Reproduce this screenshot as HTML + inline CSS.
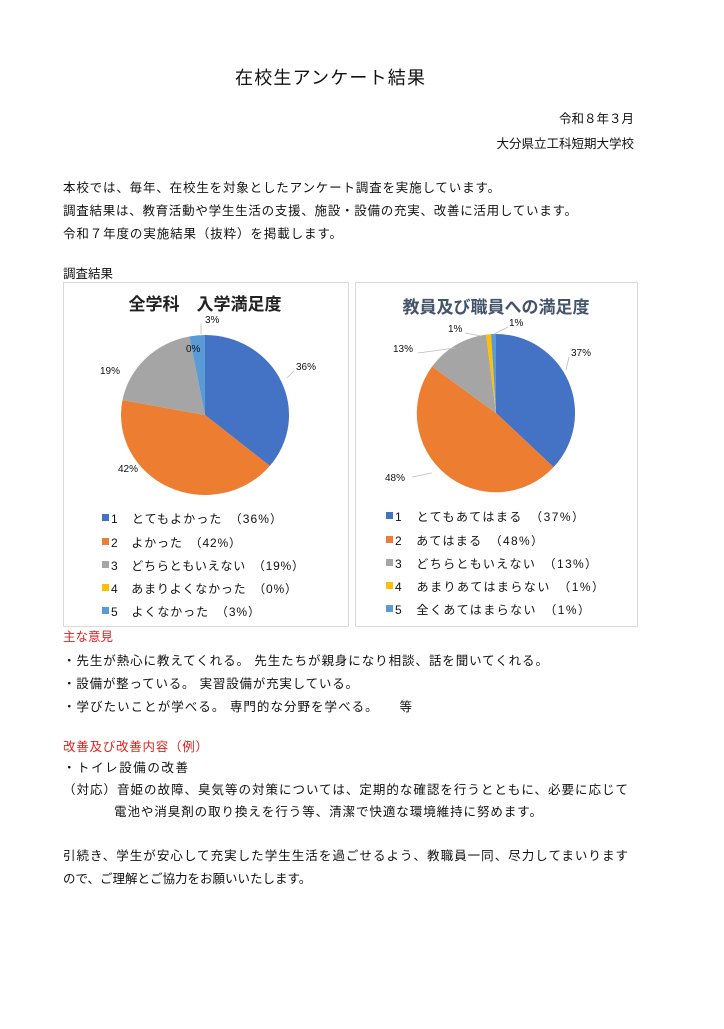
<!DOCTYPE html>
<html><head><meta charset="utf-8"><style>
body{margin:0;background:#fff}
svg text{font-family:"Liberation Sans","Noto Sans CJK JP",sans-serif;fill:#111}
</style></head><body>
<svg width="724" height="1024" viewBox="0 0 724 1024" xmlns="http://www.w3.org/2000/svg">
<rect width="724" height="1024" fill="#fff"/>
<text x="235" y="84" font-size="18" textLength="190" lengthAdjust="spacing">在校生アンケート結果</text>
<text x="634" y="123" font-size="12.5" text-anchor="end">令和８年３月</text>
<text x="634" y="148" font-size="12.5" text-anchor="end">大分県立工科短期大学校</text>
<g font-size="12.5">
<text x="63" y="192" textLength="437" lengthAdjust="spacing">本校では、毎年、在校生を対象としたアンケート調査を実施しています。</text>
<text x="63" y="215" textLength="514" lengthAdjust="spacing">調査結果は、教育活動や学生生活の支援、施設・設備の充実、改善に活用しています。</text>
<text x="63" y="238" textLength="279" lengthAdjust="spacing">令和７年度の実施結果（抜粋）を掲載します。</text>
<text x="63" y="278">調査結果</text>
</g>
<rect x="63.5" y="282.5" width="285" height="344" fill="#fff" stroke="#d9d9d9"/>
<rect x="355.5" y="282.5" width="282" height="344" fill="#fff" stroke="#d9d9d9"/>
<text x="205" y="310" font-size="17" font-weight="bold" text-anchor="middle" style="fill:#222">全学科　入学満足度</text>
<text x="496" y="313" font-size="17" font-weight="bold" text-anchor="middle" style="fill:#44546a">教員及び職員への満足度</text>
<g transform="translate(205,415) scale(84,80)">
<path d="M0 0L0 -1A1 1 0 0 1 0.772 0.636Z" fill="#4472c4"/>
<path d="M0 0L0.772 0.636A1 1 0 0 1 -0.982 -0.187Z" fill="#ed7d31"/>
<path d="M0 0L-0.982 -0.187A1 1 0 0 1 -0.187 -0.982Z" fill="#a5a5a5"/>
<path d="M0 0L-0.187 -0.982A1 1 0 0 1 0 -1Z" fill="#5b9bd5"/>
</g>
<g transform="translate(496,413) scale(79,79)">
<path d="M0 0L0 -1A1 1 0 0 1 0.729 0.685Z" fill="#4472c4"/>
<path d="M0 0L0.729 0.685A1 1 0 0 1 -0.809 -0.588Z" fill="#ed7d31"/>
<path d="M0 0L-0.809 -0.588A1 1 0 0 1 -0.125 -0.992Z" fill="#a5a5a5"/>
<path d="M0 0L-0.125 -0.992A1 1 0 0 1 -0.063 -0.998Z" fill="#ffc000"/>
<path d="M0 0L-0.063 -0.998A1 1 0 0 1 0 -1Z" fill="#5b9bd5"/>
</g>
<g font-size="10" style="fill:#444">
<text x="296" y="370">36%</text>
<text x="100" y="374">19%</text>
<text x="118" y="472">42%</text>
<text x="186" y="352">0%</text>
<text x="205" y="323">3%</text>
<text x="571" y="356">37%</text>
<text x="393" y="352">13%</text>
<text x="385" y="481">48%</text>
<text x="448" y="332">1%</text>
<text x="509" y="326">1%</text>
</g>
<g stroke="#bbb" fill="none" stroke-width="0.8">
<path d="M294 371L287 378"/><path d="M201 324L201 334"/>
<path d="M569 357L566 370"/><path d="M418 353L455 348"/><path d="M465 333L481 336"/><path d="M508 327L494 334"/><path d="M412 477L432 473"/>
</g>
<g font-size="12" style="fill:#444" lengthAdjust="spacing">
<rect x="102" y="514" width="7" height="7" fill="#4472c4"/><text x="111" y="523" textLength="171">1　とてもよかった　（36%）</text>
<rect x="102" y="538" width="7" height="7" fill="#ed7d31"/><text x="111" y="547" textLength="130">2　よかった　（42%）</text>
<rect x="102" y="561" width="7" height="7" fill="#a5a5a5"/><text x="111" y="570" textLength="193">3　どちらともいえない　（19%）</text>
<rect x="102" y="584" width="7" height="7" fill="#ffc000"/><text x="111" y="593" textLength="186">4　あまりよくなかった　（0%）</text>
<rect x="102" y="607" width="7" height="7" fill="#5b9bd5"/><text x="111" y="616" textLength="149">5　よくなかった　（3%）</text>
<rect x="386" y="512" width="7" height="7" fill="#4472c4"/><text x="395" y="521" textLength="189">1　とてもあてはまる　（37%）</text>
<rect x="386" y="536" width="7" height="7" fill="#ed7d31"/><text x="395" y="545" textLength="148">2　あてはまる　（48%）</text>
<rect x="386" y="559" width="7" height="7" fill="#a5a5a5"/><text x="395" y="568" textLength="202">3　どちらともいえない　（13%）</text>
<rect x="386" y="582" width="7" height="7" fill="#ffc000"/><text x="395" y="591" textLength="209">4　あまりあてはまらない　（1%）</text>
<rect x="386" y="605" width="7" height="7" fill="#5b9bd5"/><text x="395" y="614" textLength="195">5　全くあてはまらない　（1%）</text>
</g>
<g font-size="12.5">
<text x="63" y="641" style="fill:#e02020">主な意見</text>
<text x="63" y="665" textLength="485" lengthAdjust="spacing">・先生が熱心に教えてくれる。 先生たちが親身になり相談、話を聞いてくれる。</text>
<text x="63" y="688" textLength="295" lengthAdjust="spacing">・設備が整っている。 実習設備が充実している。</text>
<text x="63" y="711" textLength="349" lengthAdjust="spacing">・学びたいことが学べる。 専門的な分野を学べる。　　等</text>
<text x="63" y="751" style="fill:#e02020" textLength="145" lengthAdjust="spacing">改善及び改善内容（例）</text>
<text x="63" y="772" textLength="125" lengthAdjust="spacing">・トイレ設備の改善</text>
<text x="63" y="794" textLength="565" lengthAdjust="spacing">（対応）音姫の故障、臭気等の対策については、定期的な確認を行うとともに、必要に応じて</text>
<text x="114" y="816" textLength="428" lengthAdjust="spacing">電池や消臭剤の取り換えを行う等、清潔で快適な環境維持に努めます。</text>
<text x="63" y="860" textLength="565" lengthAdjust="spacing">引続き、学生が安心して充実した学生生活を過ごせるよう、教職員一同、尽力してまいります</text>
<text x="63" y="883">ので、ご理解とご協力をお願いいたします。</text>
</g>
</svg>
</body></html>
